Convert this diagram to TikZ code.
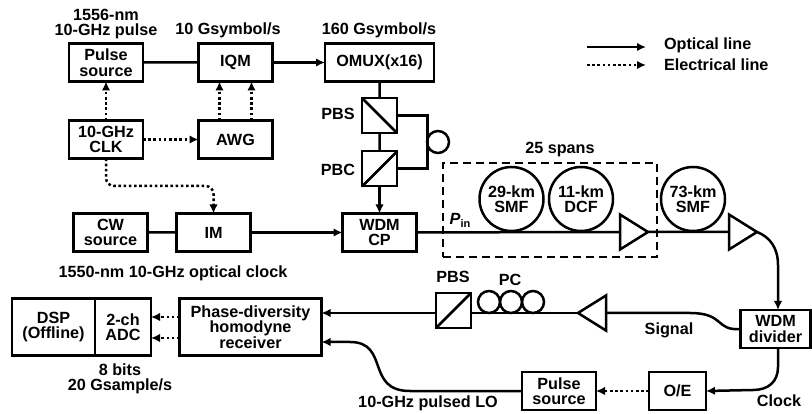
\documentclass[tikz,border=0pt]{standalone}
\usepackage{fontspec}
\setmainfont{Liberation Sans}
\usetikzlibrary{
	arrows.meta,
	shapes.geometric
}
\tikzset{
	every node/.style={
		font=\fontsize{16.2}{15.5}\selectfont\bfseries,
		align=center,
		inner sep=0pt,
		outer sep=0pt
	},
	every edge/.append style={
		-{Latex[length=9pt,width=8.5pt]}
	},
	tipped/.style={
		-{Latex[length=9pt,width=8.5pt]}
	},
	elec/.style={
		dash pattern=on 2.6pt off 2.6pt
	},
	blockbox/.style={
		draw,
		minimum width=74pt,
		minimum height=38pt
	},
	cubebox/.style={
		draw,
		line width=2pt,
		minimum size=35pt
	},
	fiber/.style={
		draw,
		circle,
		minimum size=64pt
	},
	coil/.style={
		draw,
		circle,
		minimum size=22pt
	},
	amp/.style={
		draw,
		isosceles triangle,
		isosceles triangle stretches,
		minimum width=35pt,
		minimum height=28pt,
		anchor=apex
	}
}

\begin{document}
\begin{tikzpicture}[x=1pt,y=-1pt,line width=2.5pt]
	\useasboundingbox (0,0) rectangle (812,414);
	\draw
		node [blockbox] (pulse) at (106,62.5) {Pulse\\source}
		node [blockbox,node distance=129.5pt,right of=pulse] (iqm)  {IQM}
		node [blockbox,minimum width=109pt,node distance=144pt,right of=iqm] (omux) {OMUX(x16)}
		node [blockbox,node distance=77pt,below of=pulse] (clk)  {10-GHz\\CLK}
		node [blockbox,node distance=129.5pt,right of=clk] (awg)  {AWG}
		node [cubebox,node distance=53pt,below of=omux]   (pbs)  {}
		node [cubebox,node distance=53.5pt,below of=pbs]  (pbc)  {}
		node [blockbox,node distance=63.5pt,below of=pbc] (wdm)  {WDM\\CP}
		node [blockbox,node distance=166pt,left of=wdm]   (im)   {IM}
		node [blockbox,node distance=103pt,left of=im]    (cw)   {CW\\source}

		node [fiber] (smfa) at (511.5,199) {29-km\\SMF}
		node [fiber,node distance=69.5pt,right of=smfa] (dcf)  {11-km\\DCF}
		node [fiber] (smfb) at (693,199) {73-km\\SMF}
		node [amp] (ampa) at (648,232) {}
		node [amp] (ampb) at (757,232) {}
		node [draw,dashed,dash pattern=on 8pt off 5pt,minimum width=214pt,minimum height=94pt] (spans) at (550,210) {}

		node [blockbox,minimum width=70pt] (div) at (775.5,329) {WDM\\divider}
		node [amp,shape border rotate=180] (ampc) at (578,313) {}
		node [coil] (pcc) at (533,302) {}
		node [coil,node distance=22pt,left of=pcc] (pcb) {}
		node [coil,node distance=22pt,left of=pcb] (pca) {}
		node [cubebox] (pbsr) at (453.5,310.5) {}
		node [blockbox,minimum width=142pt,minimum height=57pt] (recv) at (250.5,327) {Phase-diversity\\homodyne\\receiver}
		node [blockbox,minimum width=56pt,minimum height=57pt,node distance=127.5pt,left of=recv] (adc) {2-ch\\ADC}
		node [blockbox,minimum width=83pt,minimum height=57pt,node distance=69.5pt,left of=adc]  (dsp) {DSP\\(Offline)}
		node [blockbox] (pulser) at (559,391) {Pulse\\source}
		node [blockbox,minimum width=57pt,node distance=118.5pt,right of=pulser] (oe) {O/E}
		node [coil] (pol) at (438,142) {}

		node (srcl)  at (106,24)    {1556-nm\\10-GHz pulse}
		node (iqml)  at (228,30)    {10 Gsymbol/s}
		node (omuxl) at (379,30)    {160 Gsymbol/s}
		node (pbsl)  at (338,114)   {PBS}
		node (pbcl)  at (338,170)   {PBC}
		node (clkl)  at (173,273)   {1550-nm 10-GHz optical clock}
		node (adcl)  at (120,379)   {8 bits\\20 Gsample/s}
		node (spanl) at (560,150)   {25 spans}
		node (pinl)  at (460,220)   {\textit{P}\raisebox{-3pt}{\fontsize{11}{11}\selectfont in}}
		node (pbsrl) at (453,277)   {PBS}
		node (pcl)   at (510,280)   {PC}
		node (sigl)  at (669,330)   {Signal}
		node (clockl) at (779,401)  {Clock}
		node (lol)   at (428,403)   {10-GHz pulsed LO}
		node [anchor=west] (optl) at (664,45) {Optical line}
		node [anchor=west] (elel) at (664,65) {Electrical line}

		(pulse) -- (iqm)
		(iqm)   edge (omux)
		(omux)  -- (pbs)
		(pbs)   -- (pbc)
		(pbc)   edge (wdm)
		(cw)    -- (im)
		(im)    edge (wdm)
		(wdm)   -- (ampa.west)
		(ampa.apex) -- (ampb.west)
		(pbs.north west) -- (pbs.south east)
		(pbc.south west) -- (pbc.north east)
		(pbsr.south west) -- (pbsr.north east)
	;
	\coordinate (lom) at (410,391);
	\coordinate (lon) at (350,342);
	\coordinate (sign) at (690,313);
	\coordinate (clkm) at (160,186);
	\coordinate (loopr) at (427,142);
	\coordinate (opta) at (587,47);
	\coordinate (optb) at (646,47);
	\coordinate (elea) at (587,65);
	\coordinate (eleb) at (646,65);

	\draw [elec]
		(clk)  edge (pulse)
		(clk)  edge (awg)
		([xshift=-16pt]awg.north) edge ([xshift=-16pt]iqm.south)
		([xshift=16pt]awg.north)  edge ([xshift=16pt]iqm.south)
		([yshift=-11pt]recv.west) edge ([yshift=-11pt]adc.east)
		([yshift=10pt]recv.west)  edge ([yshift=10pt]adc.east)
		(oe)   edge (pulser)
		(elea) edge (eleb)
	;
	\draw [elec,tipped,rounded corners=8pt] (clk.south) |- (clkm) -| (im.north);

	\draw (opta) edge (optb);
	\draw [line width=3pt] (pbs.east) -| (loopr) |- (pbc.east);
	\draw (ampc.apex) -- (ampc.apex -| pbsr.east);
	\draw (pbsr.west |- ampc.apex) edge (recv.east |- ampc.apex);
	\draw (div.west) .. controls (715,331) and (725,313) .. (sign) -- (ampc.east);
	\draw [tipped] (ampb.apex) .. controls (770,237) and (778,248) .. (778,265) -- ([xshift=2.5pt]div.north);
	\draw [tipped] ([xshift=2.5pt]div.south) -- (778,367) .. controls (778,382) and (768,390) .. (753,390) -- (oe.east);
	\draw [tipped] (pulser.west) -- (lom) .. controls (365,391) and (390,342) .. (lon) -- (recv.east |- lon);
\end{tikzpicture}
\end{document}
